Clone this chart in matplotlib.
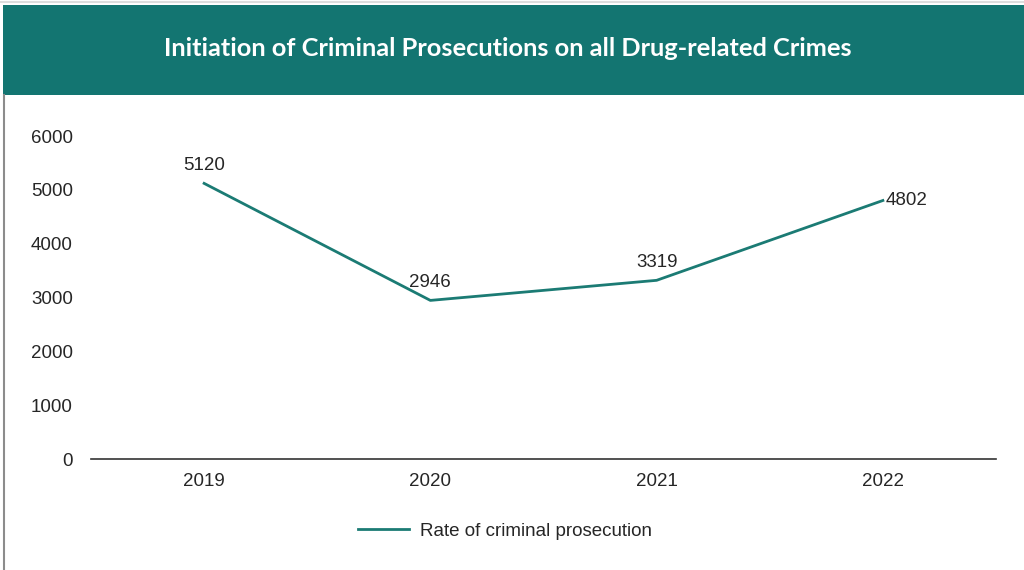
import matplotlib.pyplot as plt
from matplotlib.patches import Rectangle
from matplotlib.lines import Line2D

years = ["2019", "2020", "2021", "2022"]
prosecutions = [5120, 2946, 3319, 4802]
yticks = [0, 1000, 2000, 3000, 4000, 5000, 6000]

teal = "#137571"
line_color = "#1b7b74"
text_color = "#262626"

plt.rcParams["font.family"] = ["Liberation Sans", "DejaVu Sans"]

fig = plt.figure(figsize=(10.24, 5.7), dpi=100)
W, H = 1024, 570

# header band and frame
fig.add_artist(Line2D([0, 1], [1 - 2 / H, 1 - 2 / H], color="#dddddd", lw=1.5))
fig.add_artist(Rectangle((3 / W, 1 - 95 / H), 1 - 3 / W, 90 / H,
                         facecolor=teal, edgecolor="none"))
fig.add_artist(Line2D([4 / W, 4 / W], [0, 1 - 95 / H], color="#8c8c8c", lw=1.5))
fig.text(508 / W, 1 - 48 / H, "Initiation of Criminal Prosecutions on all Drug-related Crimes",
         color="white", fontsize=18.3, fontweight="bold", family="Lato",
         ha="center", va="center")

ax = fig.add_axes([91 / W, 111 / H, 905 / W, (459 - 136) / H])
x = list(range(len(years)))
ax.plot(x, prosecutions, color=line_color, lw=2, label="Rate of criminal prosecution")

for i, v in enumerate(prosecutions):
    if i == len(years) - 1:
        ax.annotate(str(v), (i, v), xytext=(2, 0), textcoords="offset points",
                    ha="left", va="center", fontsize=13.5, color=text_color)
    else:
        ax.annotate(str(v), (i, v), xytext=(0, 7), textcoords="offset points",
                    ha="center", va="bottom", fontsize=13.5, color=text_color)

ax.set_xlim(-0.5, len(years) - 0.5)
ax.set_ylim(0, 6000)
ax.set_xticks(x)
ax.set_xticklabels(years)
ax.set_yticks(yticks)
ax.tick_params(length=0, labelsize=13.5, labelcolor=text_color)
ax.tick_params(axis="x", pad=10)
ax.tick_params(axis="y", pad=13)
for side in ["top", "right", "left"]:
    ax.spines[side].set_visible(False)
ax.spines["bottom"].set_color("#333333")
ax.spines["bottom"].set_linewidth(1.2)

fig.legend(loc="center", bbox_to_anchor=(505 / W, 1 - 531 / H), frameon=False,
           fontsize=13.5, handlelength=2.7, handletextpad=0.6,
           labelcolor=text_color)

fig.savefig("out.png", dpi=100)
